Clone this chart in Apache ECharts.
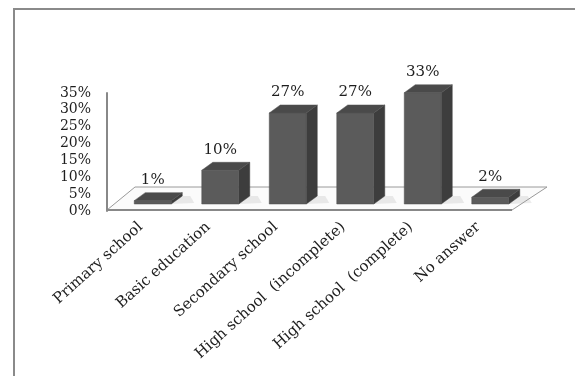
<!DOCTYPE html>
<html>
<head>
<meta charset="utf-8">
<script src="https://cdn.jsdelivr.net/npm/echarts@6/dist/echarts.min.js"></script>
<style>
html,body{margin:0;padding:0;background:#fff;}
#c{width:575px;height:376px;}
</style>
</head>
<body>
<div id="c"></div>
<script>
const categories = ['Primary school', 'Basic education', 'Secondary school', 'High school  (incomplete)', 'High school  (complete)', 'No answer'];
const values = [1, 10, 27, 27, 33, 2];
const yTicks = { min: 0, max: 35, interval: 5 };

const FONT = 'DejaVu Serif';
const SHIFT_X = 12, LIFT = 7, BAR_W = 37, DEPTH_X = 11, DEPTH_Y = 8;
const FLOOR_BACK_L = 28, FLOOR_BACK_R = 35, FLOOR_DY = 23;

const chart = echarts.init(document.getElementById('c'), null, { renderer: 'canvas' });

function renderFloor(params, api) {
  const cs = params.coordSys;
  const x0 = cs.x, x1 = cs.x + cs.width, yb = cs.y + cs.height - 1;
  return {
    type: 'group',
    children: [
      { type: 'polygon', shape: { points: [[x0, yb], [x1, yb], [x1 + FLOOR_BACK_R, yb - FLOOR_DY], [x0 + FLOOR_BACK_L, yb - FLOOR_DY]] },
        style: { fill: '#fbfbfb', stroke: '#9a9a9a', lineWidth: 1 } },
      { type: 'line', shape: { x1: x0, y1: yb, x2: x1, y2: yb }, style: { stroke: '#888', lineWidth: 2 } }
    ]
  };
}

function renderBar(params, api) {
  const i = api.value(0), v = api.value(1);
  const base = api.coord([i, 0]);
  const top = api.coord([i, v]);
  const xl = base[0] + SHIFT_X - BAR_W / 2, xr = xl + BAR_W;
  const yb = base[1] - LIFT, yt = top[1] - LIFT;
  return {
    type: 'group',
    children: [
      { type: 'polygon', shape: { points: [[xr, yb], [xr + DEPTH_X + 12, yb - 1], [xr + DEPTH_X + 8, yb - DEPTH_Y], [xr + DEPTH_X, yb - DEPTH_Y]] },
        style: { fill: 'rgba(160,160,160,0.2)' } },
      { type: 'polygon', shape: { points: [[xr, yb], [xr, yt], [xr + DEPTH_X, yt - DEPTH_Y], [xr + DEPTH_X, yb - DEPTH_Y]] },
        style: { fill: '#3d3d3d', stroke: '#3d3d3d', lineWidth: 0.5 } },
      { type: 'polygon', shape: { points: [[xl, yt], [xr, yt], [xr + DEPTH_X, yt - DEPTH_Y], [xl + DEPTH_X, yt - DEPTH_Y]] },
        style: { fill: '#4a4a4a', stroke: '#555', lineWidth: 0.5 } },
      { type: 'rect', shape: { x: xl, y: yt, width: BAR_W, height: yb - yt },
        style: { fill: '#5b5b5b', stroke: '#4f4f4f', lineWidth: 0.5 } },
      { type: 'text', style: { text: v + '%', x: (xl + xr) / 2, y: yt - DEPTH_Y - 5, align: 'center', verticalAlign: 'bottom',
        font: '15px "' + FONT + '"', fill: '#1e1e1e' } }
    ]
  };
}

chart.setOption({
  animation: false,
  backgroundColor: '#fff',
  graphic: [
    { type: 'rect', shape: { x: 14, y: 9, width: 700, height: 500 }, style: { fill: 'none', stroke: '#8a8a8a', lineWidth: 2 }, z: 100 }
  ],
  grid: { left: 107, top: 93, width: 405, height: 118, containLabel: false },
  xAxis: {
    type: 'category', data: categories,
    axisLine: { show: false }, axisTick: { show: false },
    axisLabel: { rotate: 42, margin: 14, interval: 0, fontFamily: FONT, fontSize: 15, color: '#1e1e1e' }
  },
  yAxis: {
    type: 'value', min: yTicks.min, max: yTicks.max, interval: yTicks.interval,
    splitLine: { show: false }, axisTick: { show: false },
    axisLine: { show: true, lineStyle: { color: '#888', width: 2 } },
    axisLabel: { formatter: '{value}%', margin: 16, fontFamily: FONT, fontSize: 14, color: '#1e1e1e' }
  },
  series: [
    { type: 'custom', renderItem: renderFloor, data: [[0, 0]], z: 1, silent: true },
    { type: 'custom', renderItem: renderBar, data: values.map((v, i) => [i, v]), z: 2 }
  ]
});
</script>
</body>
</html>
